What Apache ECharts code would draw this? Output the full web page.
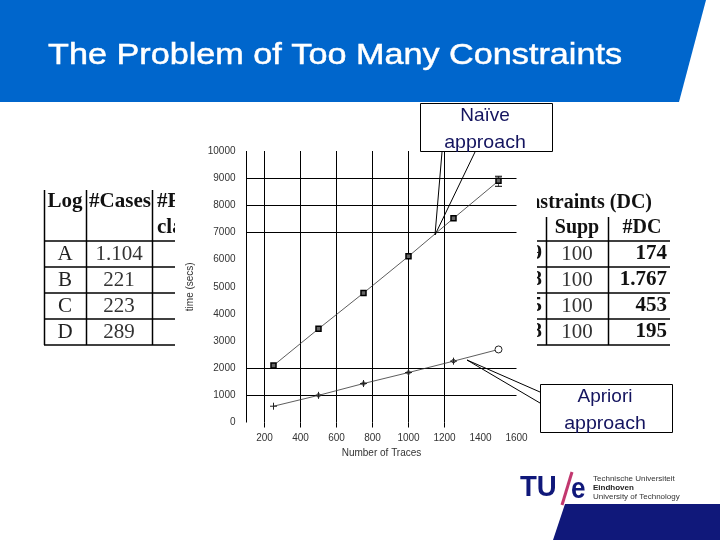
<!DOCTYPE html>
<html>
<head>
<meta charset="utf-8">
<style>
html,body{margin:0;padding:0;background:#fff;}
#chart{width:720px;height:540px;}
</style>
<script src="https://cdn.jsdelivr.net/npm/echarts@6/dist/echarts.min.js"></script>
</head>
<body>
<div id="chart"></div>
<script>
// data
var traces = [250, 500, 750, 1000, 1250, 1500];
var naiveTime = [2100, 3450, 4770, 6120, 7520, 8900];
var aprioriTime = [600, 1000, 1435, 1840, 2260, 2690];
var errorX = [1500, 1500];
var errorY = [8700, 9070];
var xTicks = [200, 400, 600, 800, 1000, 1200, 1400, 1600];
var yTicks = [0, 1000, 2000, 3000, 4000, 5000, 6000, 7000, 8000, 9000, 10000];
var xRules = [100, 200, 400, 600, 800, 1000, 1200];
var yRules = [1000, 2000, 7000, 8000, 9000];
var xStubs = [200, 400, 600, 800, 1000, 1200];

var logNames = ['A', 'B', 'C', 'D'];
var caseCounts = ['1.104', '221', '223', '289'];
var cutDigits = ['9', '8', '5', '8'];
var suppValues = ['100', '100', '100', '100'];
var dcCounts = ['174', '1.767', '453', '195'];

var NAVY = '#14145f';
var BLUE = '#0066cc';
var SERIF = '"Liberation Serif", serif';
var SANS = '"Liberation Sans", Arial, sans-serif';
var PLUS = 'path://M5 0V10M0 5H10';
var PLUS_RING = 'path://M5 0V10M0 5H10M2.5 5a2.5 2.5 0 1 0 5 0a2.5 2.5 0 1 0 -5 0';

function poly(points, fill, z) {
  return {type: 'polygon', z: z, shape: {points: points}, style: {fill: fill}};
}
function seg(x1, y1, x2, y2, z, w) {
  return {type: 'line', z: z, shape: {x1: x1, y1: y1, x2: x2, y2: y2}, style: {stroke: '#000', lineWidth: w || 1}};
}
function txt(x, y, text, size, opt) {
  opt = opt || {};
  return {type: 'text', z: opt.z || 1, x: x, y: y, scaleX: opt.scaleX || 1, style: {
    text: text, fontSize: size, fontFamily: opt.font || SERIF, fontWeight: opt.weight || 'normal',
    fill: opt.fill || '#111', align: opt.align || 'center', verticalAlign: 'middle',
    stroke: opt.stroke || null, lineWidth: opt.lineWidth || 0
  }};
}

var els = [];

// header band
els.push(poly([[0, 0], [706, 0], [679, 102], [0, 102]], BLUE, 1));
els.push(txt(48, 56, 'The Problem of Too Many Constraints', 30, {font: SANS, fill: '#fff', align: 'left', scaleX: 1.14, stroke: '#fff', lineWidth: 0.5}));

// table behind the chart
var rowY = [254, 280, 306, 332];
[241, 267, 293, 319, 345].forEach(function (y) {
  els.push(seg(44, y, 175, y, 1, 1.5));
  els.push(seg(537, y, 670, y, 1, 1.5));
});
els.push(seg(44.5, 190, 44.5, 345, 1, 1.5), seg(86.5, 190, 86.5, 345, 1, 1.5), seg(152.5, 190, 152.5, 345, 1, 1.5));
els.push(seg(546.5, 217, 546.5, 345, 1, 1.5), seg(608.5, 217, 608.5, 345, 1, 1.5));
els.push(txt(65, 202, 'Log', 21, {weight: 'bold'}));
els.push(txt(120, 202, '#Cases', 21, {weight: 'bold'}));
els.push(txt(157, 202, '#Process', 21, {weight: 'bold', align: 'left'}));
els.push(txt(157, 228, 'classes', 21, {weight: 'bold', align: 'left'}));
els.push(txt(652, 203, 'Constraints (DC)', 20, {weight: 'bold', align: 'right'}));
els.push(txt(577, 228, 'Supp', 20, {weight: 'bold'}));
els.push(txt(642, 228, '#DC', 20, {weight: 'bold'}));
rowY.forEach(function (y, i) {
  els.push(txt(65, y, logNames[i], 21, {fill: '#222'}));
  els.push(txt(119, y, caseCounts[i], 21, {fill: '#333'}));
  els.push(txt(542, y, cutDigits[i], 21, {weight: 'bold', align: 'right'}));
  els.push(txt(577, y, suppValues[i], 21, {fill: '#333'}));
  els.push(txt(667, y, dcCounts[i], 21, {weight: 'bold', align: 'right'}));
});
// the chart picture sits on the table and cuts it off
els.push({type: 'rect', z: 2, shape: {x: 175, y: 185, width: 362, height: 165}, style: {fill: '#fff'}});

// callouts
els.push({type: 'rect', z: 30, shape: {x: 420.5, y: 103.5, width: 132, height: 48}, style: {fill: '#fff', stroke: '#000', lineWidth: 1}});
els.push(txt(485, 116, 'Naïve', 19, {font: SANS, fill: NAVY, z: 31}));
els.push(txt(485, 143, 'approach', 19, {font: SANS, fill: NAVY, z: 31, scaleX: 1.03}));
els.push(seg(442, 152, 435, 235, 30), seg(475, 152, 435, 235, 30));
els.push({type: 'rect', z: 30, shape: {x: 540.5, y: 384.5, width: 132, height: 48}, style: {fill: '#fff', stroke: '#000', lineWidth: 1}});
els.push(txt(605, 397, 'Apriori', 19, {font: SANS, fill: NAVY, z: 31}));
els.push(txt(605, 424, 'approach', 19, {font: SANS, fill: NAVY, z: 31, scaleX: 1.03}));
els.push(seg(467, 360, 540, 392, 30), seg(467, 360, 540, 403, 30));

// logo and corner
els.push(poly([[565, 504], [720, 504], [720, 540], [553, 540]], '#10187a', 1));
els.push(txt(520, 488, 'TU', 30, {font: SANS, weight: 'bold', fill: '#10187a', align: 'left', scaleX: 0.92}));
els.push(seg(572, 472, 562, 505, 3, 3));
els[els.length - 1].style.stroke = '#c2386f';
els.push(txt(571, 490, 'e', 29, {font: SANS, weight: 'bold', fill: '#10187a', align: 'left', scaleX: 0.9}));
els.push(txt(593, 479, 'Technische Universiteit', 8, {font: SANS, fill: '#333', align: 'left'}));
els.push(txt(593, 488, 'Eindhoven', 8, {font: SANS, weight: 'bold', fill: '#222', align: 'left'}));
els.push(txt(593, 497, 'University of Technology', 8, {font: SANS, fill: '#333', align: 'left'}));

var chart = echarts.init(document.getElementById('chart'), null, {renderer: 'canvas'});
var labelStyle = {color: '#333', fontSize: 10, fontFamily: SANS};

chart.setOption({
  animation: false,
  backgroundColor: '#fff',
  grid: {left: 246.5, right: 203.5, top: 151, bottom: 117.5, containLabel: false},
  graphic: {elements: els},
  xAxis: {
    type: 'value', min: 100, max: 1600, z: 5,
    name: 'Number of Traces', nameLocation: 'middle', nameGap: 24,
    nameTextStyle: labelStyle,
    axisLine: {show: false},
    axisTick: {show: true, customValues: xStubs, length: 5, lineStyle: {color: '#000', width: 1}},
    splitLine: {show: false},
    axisLabel: Object.assign({customValues: xTicks, margin: 11, formatter: function (v) { return String(v); }}, labelStyle)
  },
  yAxis: {
    type: 'value', min: 0, max: 10000, z: 5,
    name: 'time (secs)', nameLocation: 'middle', nameGap: 51,
    nameTextStyle: labelStyle,
    axisLine: {show: false},
    axisTick: {show: false},
    splitLine: {show: false},
    axisLabel: Object.assign({customValues: yTicks, margin: 11, formatter: function (v) { return String(v); }}, labelStyle)
  },
  series: [
    {
      name: 'rules', type: 'line', z: 4, data: [], silent: true,
      markLine: {
        silent: true, symbol: 'none', label: {show: false}, animation: false,
        lineStyle: {color: '#000', width: 1, type: 'solid'},
        data: xRules.map(function (v) { return {xAxis: v}; })
          .concat(yRules.map(function (v) { return {yAxis: v}; }))
      }
    },
    {
      name: 'Naive', type: 'line', z: 6,
      data: traces.map(function (x, i) { return [x, naiveTime[i]]; }),
      symbol: 'rect', symbolSize: 5,
      lineStyle: {color: '#333', width: 0.8},
      itemStyle: {color: '#666', borderColor: '#000', borderWidth: 1.5}
    },
    {
      name: 'Naive error', type: 'line', z: 6,
      data: errorX.map(function (x, i) { return [x, errorY[i]]; }),
      symbol: 'rect', symbolSize: [7, 1],
      lineStyle: {color: '#333', width: 0.8},
      itemStyle: {color: '#000'}
    },
    {
      name: 'Apriori', type: 'line', z: 6,
      data: traces.map(function (x, i) { return [x, aprioriTime[i]]; }),
      symbol: function (v, params) {
        var i = params.dataIndex;
        if (i === 0) return PLUS;
        if (i === traces.length - 1) return 'circle';
        return PLUS_RING;
      },
      symbolSize: 7,
      lineStyle: {color: '#333', width: 0.8},
      itemStyle: {color: '#fff', borderColor: '#222', borderWidth: 1}
    }
  ]
});
</script>
</body>
</html>
